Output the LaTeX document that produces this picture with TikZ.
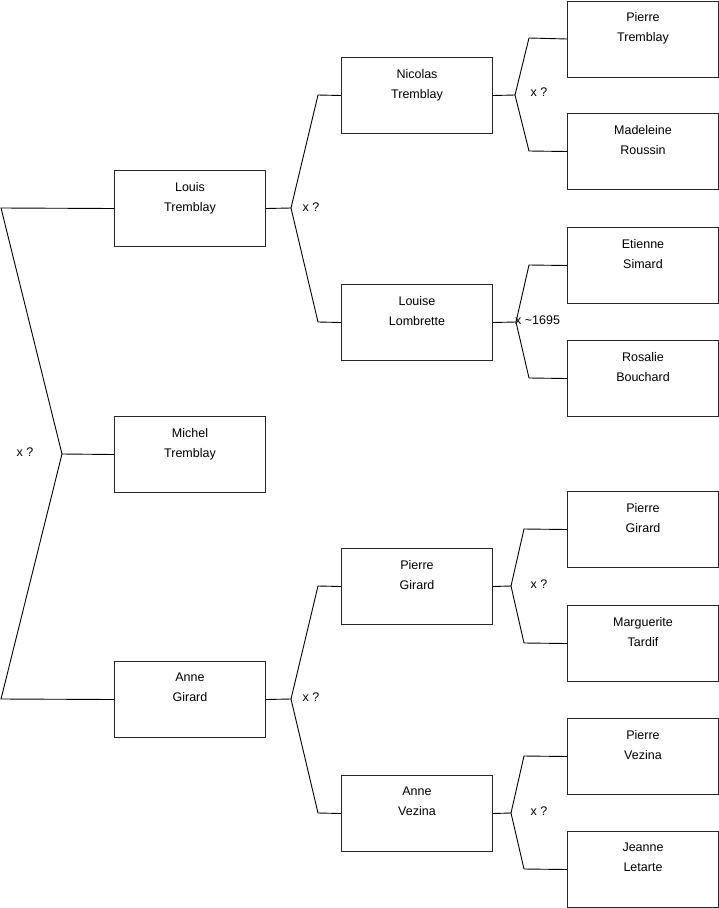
\documentclass[tikz,border=0pt]{standalone}
\usepackage{fontspec}
\setmainfont{Liberation Sans}
\begin{document}
\begin{tikzpicture}[x=1pt,y=-1pt,
  person/.style={draw=black!85, line width=1pt, minimum width=151pt, minimum height=76pt, inner sep=0pt, anchor=north west},
  ptext/.style={anchor=north, inner sep=0pt, align=center, font=\fontsize{12.5}{20}\selectfont, yshift=-12pt},
  link/.style={draw=black, line width=0.9pt},
  marr/.style={font=\fontsize{12.5}{15}\selectfont, inner sep=0pt}
]
\useasboundingbox (0,0) rectangle (719,908);

% column 1
\node[person, label={[ptext]north:Louis\\Tremblay}] (L) at (114,170) {};
\node[person, label={[ptext]north:Michel\\Tremblay}] (M) at (114,416) {};
\node[person, label={[ptext]north:Anne\\Girard}] (A) at (114,661) {};
% column 2
\node[person, label={[ptext]north:Nicolas\\Tremblay}] (N) at (341,57) {};
\node[person, label={[ptext]north:Louise\\Lombrette}] (LL) at (341,284) {};
\node[person, label={[ptext]north:Pierre\\Girard}] (PG) at (341,548) {};
\node[person, label={[ptext]north:Anne\\Vezina}] (AV) at (341,775) {};
% column 3
\node[person, label={[ptext]north:Pierre\\Tremblay}] (PT) at (567,0.5) {};
\node[person, label={[ptext]north:Madeleine\\Roussin}] (MR) at (567,113) {};
\node[person, label={[ptext]north:Etienne\\Simard}] (ES) at (567,227) {};
\node[person, label={[ptext]north:Rosalie\\Bouchard}] (RB) at (567,340) {};
\node[person, label={[ptext]north:Pierre\\Girard}] (PG2) at (567,491) {};
\node[person, label={[ptext]north:Marguerite\\Tardif}] (MT) at (567,605) {};
\node[person, label={[ptext]north:Pierre\\Vezina}] (PV) at (567,718) {};
\node[person, label={[ptext]north:Jeanne\\Letarte}] (JL) at (567,831) {};

% level 1 connectors
\coordinate (c1) at (1,208);
\coordinate (j1) at (62,454);
\coordinate (c2) at (1,699);
\draw[link] (L.west) -- (c1) -- (j1) -- (M.west);
\draw[link] (j1) -- (c2) -- (A.west);
\node[marr] (m1) at (25,452) {x ?};

% level 2 connectors
\coordinate (j2) at (291,208);
\coordinate (k1) at (318,95);
\coordinate (k2) at (318,322);
\draw[link] (L.east) -- (j2) -- (k1) -- (N.west);
\draw[link] (j2) -- (k2) -- (LL.west);
\node[marr] (m2) at (311,207) {x ?};

\coordinate (j3) at (291,699);
\coordinate (k3) at (318,586);
\coordinate (k4) at (318,813);
\draw[link] (A.east) -- (j3) -- (k3) -- (PG.west);
\draw[link] (j3) -- (k4) -- (AV.west);
\node[marr] (m3) at (311,697) {x ?};

% level 3 connectors
\coordinate (j4) at (515,95);
\coordinate (e1) at (529,38);
\coordinate (e2) at (529,151);
\draw[link] (N.east) -- (j4) -- (e1) -- (PT.west);
\draw[link] (j4) -- (e2) -- (MR.west);
\node[marr] (m4) at (539,92) {x ?};

\coordinate (j5) at (516,322);
\coordinate (e3) at (529,265);
\coordinate (e4) at (529,378);
\draw[link] (LL.east) -- (j5) -- (e3) -- (ES.west);
\draw[link] (j5) -- (e4) -- (RB.west);
\node[marr, anchor=west] (m5) at (515,320) {x \textasciitilde1695};

\coordinate (j6) at (511,586);
\coordinate (e5) at (524,529);
\coordinate (e6) at (524,643);
\draw[link] (PG.east) -- (j6) -- (e5) -- (PG2.west);
\draw[link] (j6) -- (e6) -- (MT.west);
\node[marr] (m6) at (539,584) {x ?};

\coordinate (j7) at (511,813);
\coordinate (e7) at (524,756);
\coordinate (e8) at (524,869);
\draw[link] (AV.east) -- (j7) -- (e7) -- (PV.west);
\draw[link] (j7) -- (e8) -- (JL.west);
\node[marr] (m7) at (539,811) {x ?};
\end{tikzpicture}
\end{document}
